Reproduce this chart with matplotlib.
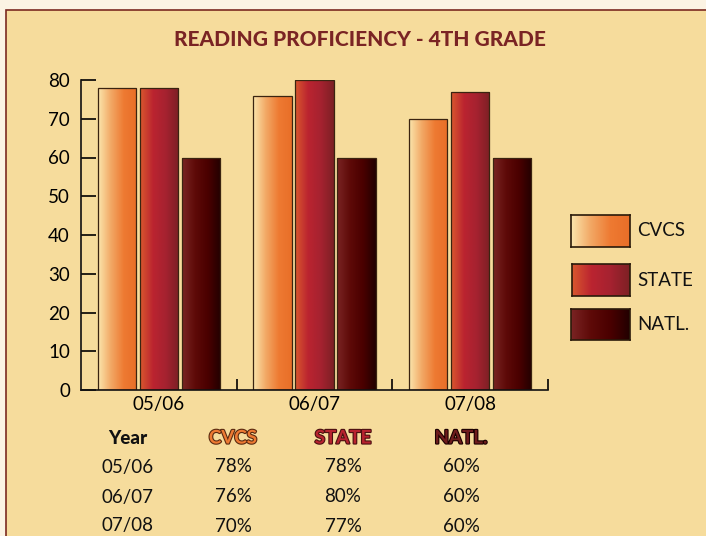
import numpy as np
import matplotlib
matplotlib.use("Agg")
import matplotlib.pyplot as plt
import matplotlib.patheffects as pe
from matplotlib.colors import LinearSegmentedColormap
from matplotlib.patches import Rectangle

# data
years = ["05/06", "06/07", "07/08"]
series_names = ["CVCS", "STATE", "NATL."]
cvcs = [78, 76, 70]
state = [78, 80, 77]
natl = [60, 60, 60]
y_ticks = [0, 10, 20, 30, 40, 50, 60, 70, 80]

plt.rcParams['font.family'] = ['Lato', 'DejaVu Sans']

BG = "#f6dc9c"
OUTER = "#fbf3e3"
TITLE_C = "#7a2424"

cmaps = [
    LinearSegmentedColormap.from_list("cvcs", ["#fbe6ad", "#f2a865", "#ee7a32", "#e86e28"]),
    LinearSegmentedColormap.from_list("state", ["#d9582e", "#bb2430", "#a52230", "#7c2024"]),
    LinearSegmentedColormap.from_list("natl", ["#7a2424", "#5e0a08", "#4a0000", "#220000"]),
]
label_fill = ["#ee7a32", "#b8232f", "#6e1c1c"]
label_edge = ["#5a2a10", "#4a1010", "#1a0000"]

grad = np.linspace(0, 1, 256).reshape(1, -1)

fig = plt.figure(figsize=(7.06, 5.36), dpi=100)
fig.patch.set_facecolor(OUTER)

# panel with border
fig.patches.append(Rectangle((6 / 706, -0.1), 1.2, 1 - 10 / 536 + 0.1,
                             transform=fig.transFigure, facecolor=BG,
                             edgecolor="#7b2a20", linewidth=1.2, zorder=-5))

ax = fig.add_axes([81 / 706, 1 - 390 / 536, 467 / 706, 310 / 536])
ax.set_facecolor("none")

x = np.arange(1, len(years) + 1)
width = 0.245
offsets = [-0.27, 0, 0.27]

for vals, off, cmap in zip([cvcs, state, natl], offsets, cmaps):
    bars = ax.bar(x + off, vals, width, facecolor="none", edgecolor="#3a2410",
                  linewidth=0.9, zorder=3)
    for b in bars:
        bx, bw, bh = b.get_x(), b.get_width(), b.get_height()
        im = ax.imshow(grad, cmap=cmap, aspect="auto",
                       extent=[bx, bx + bw, 0, bh], zorder=2)
        im.set_clip_path(b)

ax.set_xlim(0.5, 3.5)
ax.set_ylim(0, 80)
ax.spines["top"].set_visible(False)
ax.spines["right"].set_visible(False)
for s in ["left", "bottom"]:
    ax.spines[s].set_linewidth(1.2)
    ax.spines[s].set_color("#111111")
    ax.spines[s].set_zorder(4)

ax.set_yticks(y_ticks)
ax.tick_params(axis="y", direction="in", length=11, width=1.2, labelsize=13.5, pad=8)
ax.set_xticks(x)
ax.set_xticklabels(years)
ax.tick_params(axis="x", which="major", length=0, labelsize=13.5, pad=4)
ax.set_xticks([1.5, 2.5, 3.5], minor=True)
ax.tick_params(axis="x", which="minor", direction="in", length=8, width=1.2)

fig.text(360 / 706, 1 - 40 / 536, "READING PROFICIENCY - 4TH GRADE",
         ha="center", va="center", fontsize=15, fontweight="black", color=TITLE_C)

# legend
leg_boxes = [(571, 215, 59, 32), (572, 264, 58, 32), (571, 309, 59, 31)]
for (lx, ly, lw, lh), name, cmap in zip(leg_boxes, series_names, cmaps):
    lax = fig.add_axes([lx / 706, 1 - (ly + lh) / 536, lw / 706, lh / 536])
    lax.imshow(grad, cmap=cmap, aspect="auto")
    lax.set_xticks([])
    lax.set_yticks([])
    for s in lax.spines.values():
        s.set_color("#2a1a0a")
        s.set_linewidth(1.2)
    fig.text(637 / 706, 1 - (ly + lh / 2) / 536, name, ha="left", va="center",
             fontsize=13.5, color="#111111")

# data table
col_x = [128, 233, 343, 461]
fig.text(col_x[0] / 706, 1 - 438 / 536, "Year", ha="center", va="center",
         fontsize=13.5, fontweight="black", color="#111111")
for cx, name, fc, ec in zip(col_x[1:], series_names, label_fill, label_edge):
    t = fig.text(cx / 706, 1 - 438 / 536, name, ha="center", va="center",
                 fontsize=13.5, fontweight="bold", color=fc)
    t.set_path_effects([pe.Stroke(linewidth=1.6, foreground=ec), pe.Normal()])

row_y = [467, 497, 526]
for i, yr in enumerate(years):
    cells = [yr, f"{cvcs[i]}%", f"{state[i]}%", f"{natl[i]}%"]
    for cx, c in zip(col_x, cells):
        fig.text(cx / 706, 1 - row_y[i] / 536, c, ha="center", va="center",
                 fontsize=13.5, color="#111111")

fig.savefig("out.png", dpi=100, facecolor=fig.get_facecolor())
